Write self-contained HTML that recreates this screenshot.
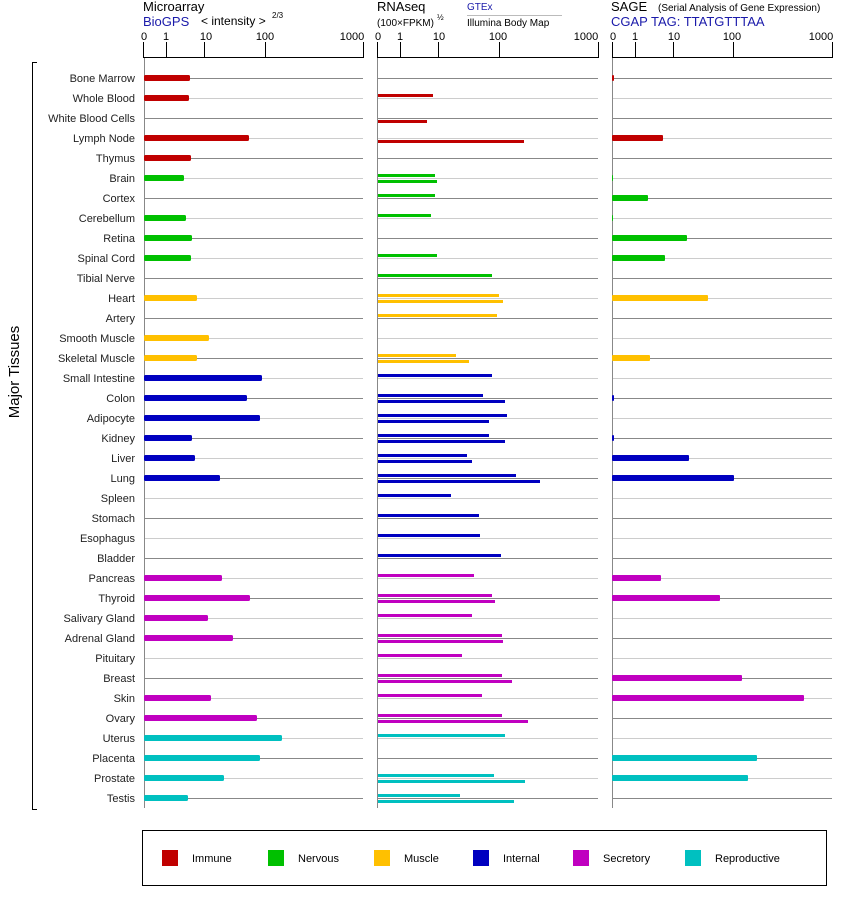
<!DOCTYPE html>
<html><head><meta charset="utf-8"><style>
html,body{margin:0;padding:0;background:#fff;}
svg{display:block;font-family:"Liberation Sans",Arial,sans-serif;}
.lb{font-size:11px;fill:#222;text-anchor:end;}
.tk{font-size:11px;fill:#000;text-anchor:middle;}
</style></head><body>
<svg id="s" width="842" height="900" viewBox="0 0 842 900" xmlns="http://www.w3.org/2000/svg">
<text x="143" y="11" font-size="13">Microarray</text>
<text x="143" y="26" font-size="13" fill="#1a1aaa">BioGPS</text>
<text x="201" y="25" font-size="12">&lt; intensity &gt;</text>
<text x="272" y="18" font-size="8">2/3</text>
<text x="377" y="11" font-size="13">RNAseq</text>
<text x="377" y="26" font-size="10">(100×FPKM)</text>
<text x="437" y="20" font-size="8">½</text>
<text x="467" y="10" font-size="10" fill="#1a1aaa">GTEx</text>
<line x1="467" y1="15.5" x2="562" y2="15.5" stroke="#bbb"/>
<text x="467" y="26" font-size="10">Illumina Body Map</text>
<text x="611" y="11" font-size="13">SAGE</text>
<text x="658" y="11" font-size="10">(Serial Analysis of Gene Expression)</text>
<text x="611" y="26" font-size="13" fill="#1a1aaa">CGAP TAG: TTATGTTTAA</text>

<g class="tk">
<text x="144" y="40">0</text><text x="166" y="40">1</text><text x="206" y="40">10</text><text x="265" y="40">100</text><text x="352" y="40">1000</text>
<text x="378" y="40">0</text><text x="400" y="40">1</text><text x="439" y="40">10</text><text x="498" y="40">100</text><text x="586" y="40">1000</text>
<text x="613" y="40">0</text><text x="635" y="40">1</text><text x="674" y="40">10</text><text x="732" y="40">100</text><text x="821" y="40">1000</text>
</g>

<g class="lb">
<text x="135" y="82">Bone Marrow</text>
<text x="135" y="102">Whole Blood</text>
<text x="135" y="122">White Blood Cells</text>
<text x="135" y="142">Lymph Node</text>
<text x="135" y="162">Thymus</text>
<text x="135" y="182">Brain</text>
<text x="135" y="202">Cortex</text>
<text x="135" y="222">Cerebellum</text>
<text x="135" y="242">Retina</text>
<text x="135" y="262">Spinal Cord</text>
<text x="135" y="282">Tibial Nerve</text>
<text x="135" y="302">Heart</text>
<text x="135" y="322">Artery</text>
<text x="135" y="342">Smooth Muscle</text>
<text x="135" y="362">Skeletal Muscle</text>
<text x="135" y="382">Small Intestine</text>
<text x="135" y="402">Colon</text>
<text x="135" y="422">Adipocyte</text>
<text x="135" y="442">Kidney</text>
<text x="135" y="462">Liver</text>
<text x="135" y="482">Lung</text>
<text x="135" y="502">Spleen</text>
<text x="135" y="522">Stomach</text>
<text x="135" y="542">Esophagus</text>
<text x="135" y="562">Bladder</text>
<text x="135" y="582">Pancreas</text>
<text x="135" y="602">Thyroid</text>
<text x="135" y="622">Salivary Gland</text>
<text x="135" y="642">Adrenal Gland</text>
<text x="135" y="662">Pituitary</text>
<text x="135" y="682">Breast</text>
<text x="135" y="702">Skin</text>
<text x="135" y="722">Ovary</text>
<text x="135" y="742">Uterus</text>
<text x="135" y="762">Placenta</text>
<text x="135" y="782">Prostate</text>
<text x="135" y="802">Testis</text>
</g>

<path d="M37 62.5H32.5V809.5H37" fill="none" stroke="#000"/>
<text transform="translate(19,372) rotate(-90)" font-size="15" text-anchor="middle">Major Tissues</text>

<rect x="142.5" y="830.5" width="684" height="55" fill="none" stroke="#000"/>
<rect x="162" y="850" width="16" height="16" fill="#c00000"/><text x="192" y="862" font-size="11">Immune</text>
<rect x="268" y="850" width="16" height="16" fill="#00c000"/><text x="298" y="862" font-size="11">Nervous</text>
<rect x="374" y="850" width="16" height="16" fill="#ffc000"/><text x="404" y="862" font-size="11">Muscle</text>
<rect x="473" y="850" width="16" height="16" fill="#0000c0"/><text x="503" y="862" font-size="11">Internal</text>
<rect x="573" y="850" width="16" height="16" fill="#c000c0"/><text x="603" y="862" font-size="11">Secretory</text>
<rect x="685" y="850" width="16" height="16" fill="#00c0c0"/><text x="715" y="862" font-size="11">Reproductive</text>
<g id="g"></g>
</svg>
<script>
var g=document.getElementById('g'),NS='http://www.w3.org/2000/svg';
function el(t,a){var e=document.createElementNS(NS,t);for(var k in a)e.setAttribute(k,a[k]);g.appendChild(e);}
var panels=[[144,363,[143,166,204,265,363]],[377,598,[377,400,438,499,598]],[612,832,[612,635,673,733,832]]];
panels.forEach(function(p){
 el('line',{x1:p[0],y1:57.5,x2:p[1]+1,y2:57.5,stroke:'#000'});
 p[2].forEach(function(x){el('line',{x1:x+.5,y1:42,x2:x+.5,y2:58,stroke:'#000'});});
 for(var i=0;i<37;i++){var y=78.5+20*i;el('line',{x1:p[0],y1:y,x2:p[1],y2:y,stroke:i%2?'#ccc':'#888'});}
 el('line',{x1:p[0]+.5,y1:58,x2:p[0]+.5,y2:808,stroke:'#888'});
});
var C={I:'#c00000',N:'#00c000',M:'#ffc000',T:'#0000c0',S:'#c000c0',R:'#00c0c0'};
var cat='IIIIINNNNNNMMMMTTTTTTTTTTSSSSSSSSRRRR';
var ma=[190,189,0,249,191,184,0,186,192,191,0,197,0,209,197,262,247,260,192,195,220,0,0,0,0,222,250,208,233,0,0,211,257,282,260,224,188];
var rn=[[0,0],[433,0],[0,427],[0,524],[0,0],[435,437],[435,0],[431,0],[0,0],[437,0],[492,0],[499,503],[497,0],[0,0],[456,469],[492,0],[483,505],[507,489],[489,505],[467,472],[516,540],[451,0],[479,0],[480,0],[501,0],[474,0],[492,495],[472,0],[502,503],[462,0],[502,512],[482,0],[502,528],[505,0],[0,0],[494,525],[460,514]];
var sg=[614,0,0,663,0,613,648,613,687,665,0,708,0,0,650,0,614,0,614,689,734,0,0,0,0,661,720,0,0,0,742,804,0,0,757,748,0];
for(var i=0;i<37;i++){
 var y=78+20*i,c=C[cat[i]];
 if(ma[i]){el('rect',{x:144,y:y-3,width:ma[i]-144,height:6,rx:1.5,fill:c});}
 if(rn[i][0])el('rect',{x:378,y:y-4,width:rn[i][0]-378,height:3,fill:c});
 if(rn[i][1])el('rect',{x:378,y:y+2,width:rn[i][1]-378,height:3,fill:c});
 if(sg[i])el('rect',{x:612,y:y-3,width:sg[i]-612,height:6,rx:1,fill:c});
}
</script>
</body></html>
